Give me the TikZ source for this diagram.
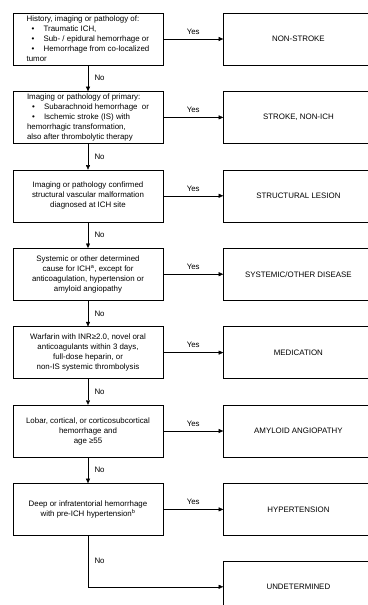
\documentclass[tikz,border=0pt]{standalone}
\usepackage{fontspec}
\setmainfont{Liberation Sans}
\usetikzlibrary{positioning, arrows.meta}
\newcommand{\bul}{\makebox[17pt][l]{\hspace{5pt}\textbullet}}
\tikzset{->, % all edges are directed
>={Triangle[length=4.5pt,width=4pt]}, % small filled arrow heads
node distance=26pt and 60pt, % gap below and to the right of a box
line width=0.6pt,
crit/.style={draw, -, minimum width=150pt, minimum height=52pt, inner sep=2pt, align=center, font=\fontsize{7.9}{10}\selectfont}, % question boxes
diag/.style={crit}, % outcome boxes
lbl/.style={font=\fontsize{7.9}{10}\selectfont}, % Yes / No
}

\begin{document}
\begin{tikzpicture}
\useasboundingbox (0,0) rectangle (367pt,-605pt);
\node[crit, align=left] (c1) at (88pt,-39pt) {History, imaging or pathology of:\\
\bul Traumatic ICH,\\
\bul Sub- / epidural hemorrhage or\\
\bul Hemorrhage from co-localized\\
tumor};
\node[crit, align=left, below=of c1] (c2) {Imaging or pathology of primary:\\
\bul Subarachnoid hemorrhage~ or\\
\bul Ischemic stroke (IS) with\\
hemorrhagic transformation,\\
also after thrombolytic therapy};
\node[crit, below=of c2] (c3) {Imaging or pathology confirmed\\structural vascular malformation\\diagnosed at ICH site};
\node[crit, below=of c3] (c4) {Systemic or other determined\\cause for ICH\textsuperscript{a}, except for\\anticoagulation, hypertension or\\amyloid angiopathy};
\node[crit, below=of c4] (c5) {Warfarin with INR≥2.0, novel oral\\anticoagulants within 3 days,\\full-dose heparin, or\\non-IS systemic thrombolysis};
\node[crit, below=of c5] (c6) {Lobar, cortical, or corticosubcortical\\hemorrhage and\\age ≥55};
\node[crit, below=of c6] (c7) {Deep or infratentorial hemorrhage\\with pre-ICH hypertension\textsuperscript{b}};

\node[diag, right=of c1] (d1) {NON-STROKE};
\node[diag, right=of c2] (d2) {STROKE, NON-ICH};
\node[diag, right=of c3] (d3) {STRUCTURAL LESION};
\node[diag, right=of c4] (d4) {SYSTEMIC/OTHER DISEASE};
\node[diag, right=of c5] (d5) {MEDICATION};
\node[diag, right=of c6] (d6) {AMYLOID ANGIOPATHY};
\node[diag, right=of c7] (d7) {HYPERTENSION};
\node[diag, below=25pt of d7] (d8) {UNDETERMINED};

\foreach \i in {1,...,7}
  \draw (c\i) -- node[above, lbl, yshift=1pt] {Yes} (d\i);
\foreach \i/\j in {1/2,2/3,3/4,4/5,5/6,6/7}
  \draw (c\i) -- node[right, lbl, xshift=3pt] {No} (c\j);
\draw (c7) |- node[pos=0.25, right, lbl, xshift=3pt] {No} (d8);

\end{tikzpicture}
\end{document}
